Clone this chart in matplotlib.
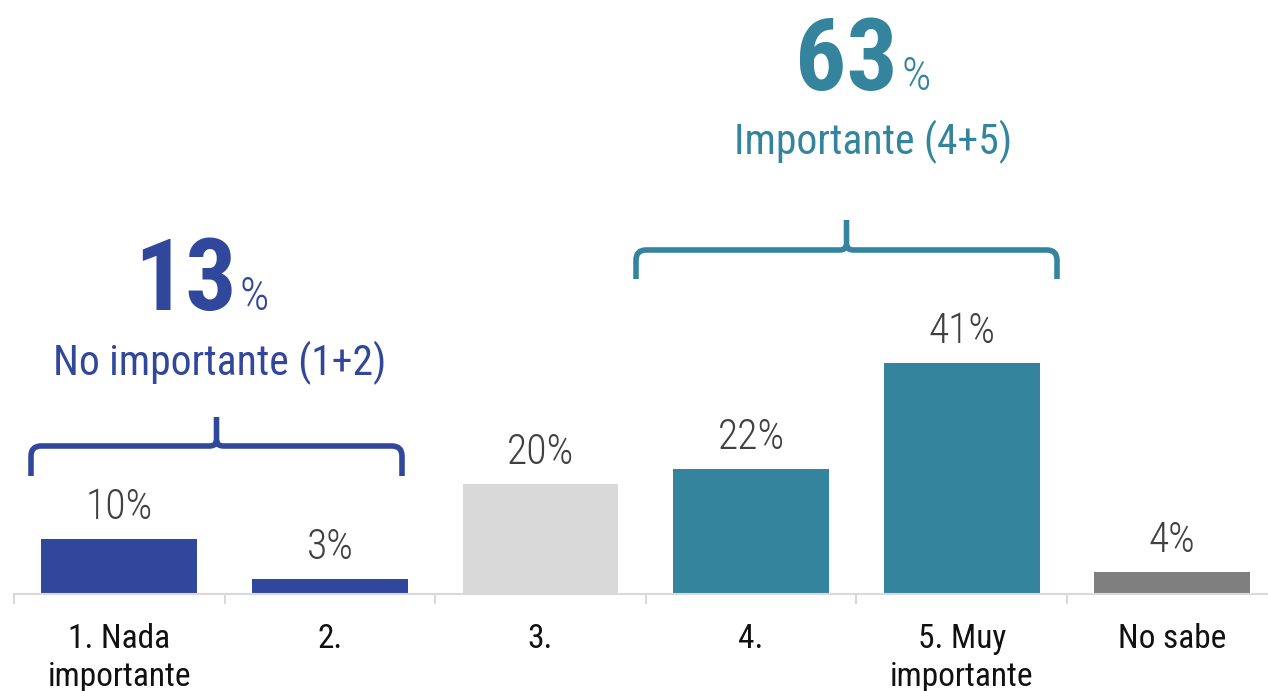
import matplotlib
matplotlib.use("Agg")
import matplotlib.pyplot as plt
from matplotlib.path import Path
from matplotlib.patches import PathPatch

categories = ["1. Nada\nimportante", "2.", "3.", "4.", "5. Muy\nimportante", "No sabe"]
values = [9.7, 2.6, 19.6, 22.2, 41.1, 3.9]
colors = ["#31479B", "#31479B", "#D9D9D9", "#33849C", "#33849C", "#7F7F7F"]
group_low = "No importante (1+2)"
group_low_value = 13
group_high = "Importante (4+5)"
group_high_value = 63

FONT = ["Roboto Condensed", "Liberation Sans Narrow", "DejaVu Sans Condensed", "Roboto"]
plt.rcParams["font.family"] = FONT
plt.rcParams["font.stretch"] = "condensed"

W, H = 1268, 691
fig = plt.figure(figsize=(W / 100, H / 100), dpi=100)
ax = fig.add_axes([14 / W, 1 - 594 / H, (W - 14) / W, 594 / H])

PXX = 210.6
PXY = 5.62
ax.set_xlim(-0.5, (W - 119.3) / PXX)
ax.set_ylim(0, 594 / PXY)

x = list(range(len(categories)))
bars = ax.bar(x, values, width=0.74, color=colors)
for xi, v in zip(x, values):
    ax.annotate(f"{round(v)}%", (xi, v), xytext=(0, 14.4), textcoords="offset points",
                ha="center", va="baseline", fontsize=30, fontweight="light", color="#404040")

for s in ["top", "right", "left"]:
    ax.spines[s].set_visible(False)
ax.spines["bottom"].set_color("#D9D9D9")
ax.spines["bottom"].set_linewidth(1.5)
ax.set_yticks([])
ax.set_xticks(x)
ax.set_xticklabels(categories, fontsize=24, color="#111111", linespacing=1.22)
ax.tick_params(axis="x", which="major", length=0, pad=21)
ax.set_xticks([i - 0.5 for i in range(len(categories))], minor=True)
ax.tick_params(axis="x", which="minor", length=7, width=1.5, color="#D9D9D9")


def brace(x0, x1, yh, yend, ytip, color):
    xc = (x0 + x1) / 2
    rx, ry = 10 / PXX, 10 / PXY
    cx, cy = 7 / PXX, 6 / PXY
    verts = [
        (x0, yend), (x0, yh - ry),
        (x0, yh), (x0 + rx, yh),
        (xc - cx, yh),
        (xc, yh), (xc, yh + cy),
        (xc, ytip),
        (xc, yh + cy),
        (xc, yh), (xc + cx, yh),
        (x1 - rx, yh),
        (x1, yh), (x1, yh - ry),
        (x1, yend),
    ]
    codes = [Path.MOVETO, Path.LINETO, Path.CURVE3, Path.CURVE3, Path.LINETO,
             Path.CURVE3, Path.CURVE3, Path.LINETO, Path.MOVETO, Path.CURVE3, Path.CURVE3,
             Path.LINETO, Path.CURVE3, Path.CURVE3, Path.LINETO]
    p = PathPatch(Path(verts, codes), facecolor="none", edgecolor=color, lw=4.0,
                  capstyle="butt", joinstyle="round", clip_on=False)
    ax.add_patch(p)


def px(xp):
    return (xp - 119.3) / PXX


def py(yp):
    return (594 - yp) / PXY


brace(px(31), px(402), py(446), py(476), py(417), "#31479B")
brace(px(636), px(1057), py(250), py(279), py(220), "#33849C")

ax.text(px(237), py(310), f"{group_low_value}", ha="right", va="baseline",
        fontsize=73, fontweight="bold", color="#31479B")
ax.text(px(240), py(310), "%", ha="left", va="baseline", fontsize=33,
        fontweight="light", color="#31479B")
ax.text(px(220), py(375), group_low, ha="center", va="baseline", fontsize=30,
        color="#31479B")

ax.text(px(898), py(90), f"{group_high_value}", ha="right", va="baseline",
        fontsize=73, fontweight="bold", color="#33849C")
ax.text(px(902), py(90), "%", ha="left", va="baseline", fontsize=33,
        fontweight="light", color="#33849C")
ax.text(px(873), py(154), group_high, ha="center", va="baseline", fontsize=30,
        color="#33849C")

fig.savefig("out.png", dpi=100)
